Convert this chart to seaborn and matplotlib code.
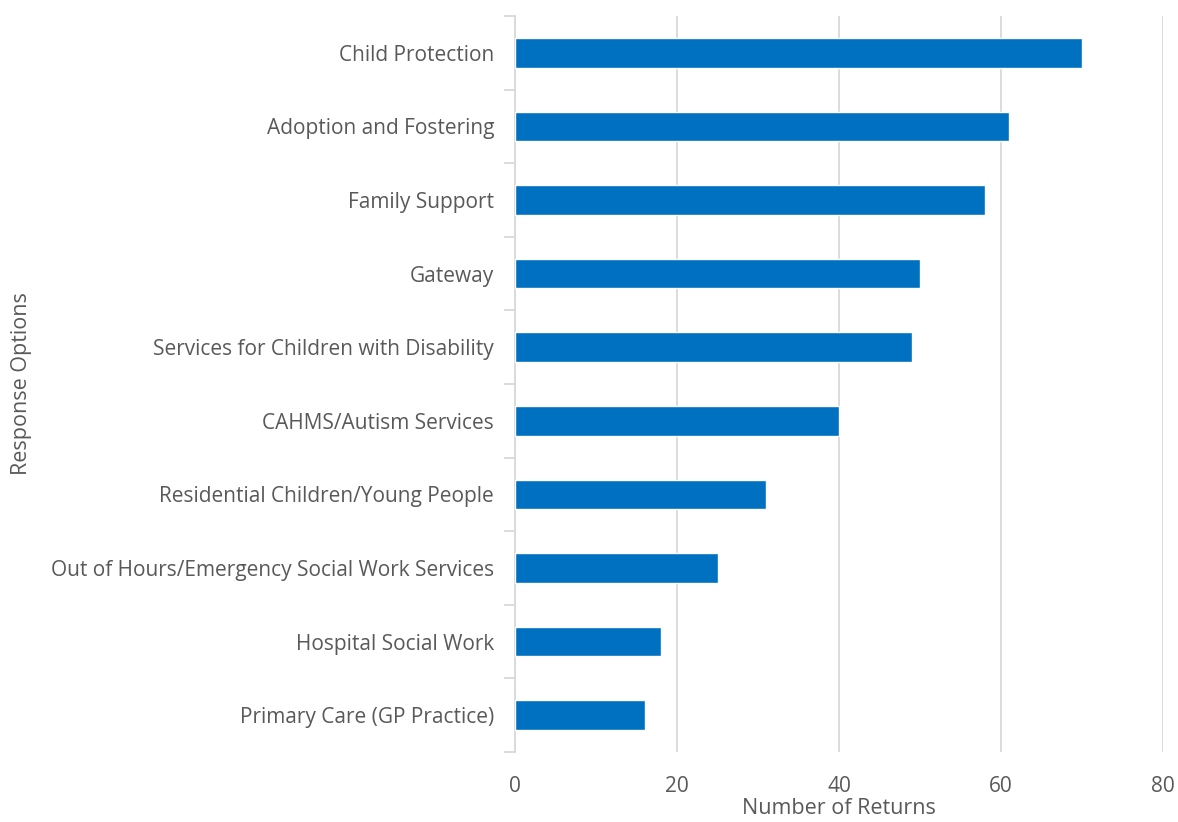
import matplotlib
matplotlib.use("Agg")
import matplotlib.pyplot as plt
import seaborn as sns
import pandas as pd
import numpy as np

categories = [
    "Child Protection",
    "Adoption and Fostering",
    "Family Support",
    "Gateway",
    "Services for Children with Disability",
    "CAHMS/Autism Services",
    "Residential Children/Young People",
    "Out of Hours/Emergency Social Work Services",
    "Hospital Social Work",
    "Primary Care (GP Practice)",
]
returns = [70, 61, 58, 50, 49, 40, 31, 25, 18, 16]
x_ticks = [0, 20, 40, 60, 80]

sns.set_style("white")
plt.rcParams["font.family"] = ["Open Sans", "DejaVu Sans"]

df = pd.DataFrame({"Response Options": categories, "Number of Returns": returns})

fig = plt.figure(figsize=(11.78, 8.22), dpi=100)
ax = fig.add_axes([515 / 1178, 1 - 752 / 822, (1163 - 515) / 1178, (752 - 16) / 822])

sns.barplot(data=df, y="Response Options", x="Number of Returns", orient="h",
            color="#0070C0", saturation=1, width=0.4, ax=ax, zorder=3)

text_col = "#595959"
grid_col = "#D9D9D9"

ax.set_xlim(0, 80)
ax.set_ylim(len(categories) - 0.5, -0.5)
ax.set_xticks(x_ticks)
ax.set_xticklabels([str(t) for t in x_ticks])
ax.xaxis.grid(True, color=grid_col, linewidth=1.3, zorder=0)
ax.set_axisbelow(True)

for s in ["top", "right", "bottom"]:
    ax.spines[s].set_visible(False)
ax.spines["left"].set_color(grid_col)
ax.spines["left"].set_linewidth(1.3)

# category boundary ticks on the left spine
ax.set_yticks(np.arange(-0.5, len(categories), 1.0), minor=True)
ax.tick_params(axis="y", which="minor", left=True, length=8, width=1.3,
               color=grid_col, direction="out")
ax.tick_params(axis="y", which="major", left=False, length=0, pad=15,
               labelsize=15, labelcolor=text_col)
ax.tick_params(axis="x", which="major", bottom=False, length=0, pad=17,
               labelsize=15, labelcolor=text_col)

ax.set_xlabel("Number of Returns", fontsize=15.5, color=text_col)
ax.set_ylabel("Response Options", fontsize=15.5, color=text_col)
ax.xaxis.set_label_coords(0.5, -0.063)
ax.yaxis.set_label_coords(-0.745, 0.5)

fig.savefig("out.png", dpi=100)
